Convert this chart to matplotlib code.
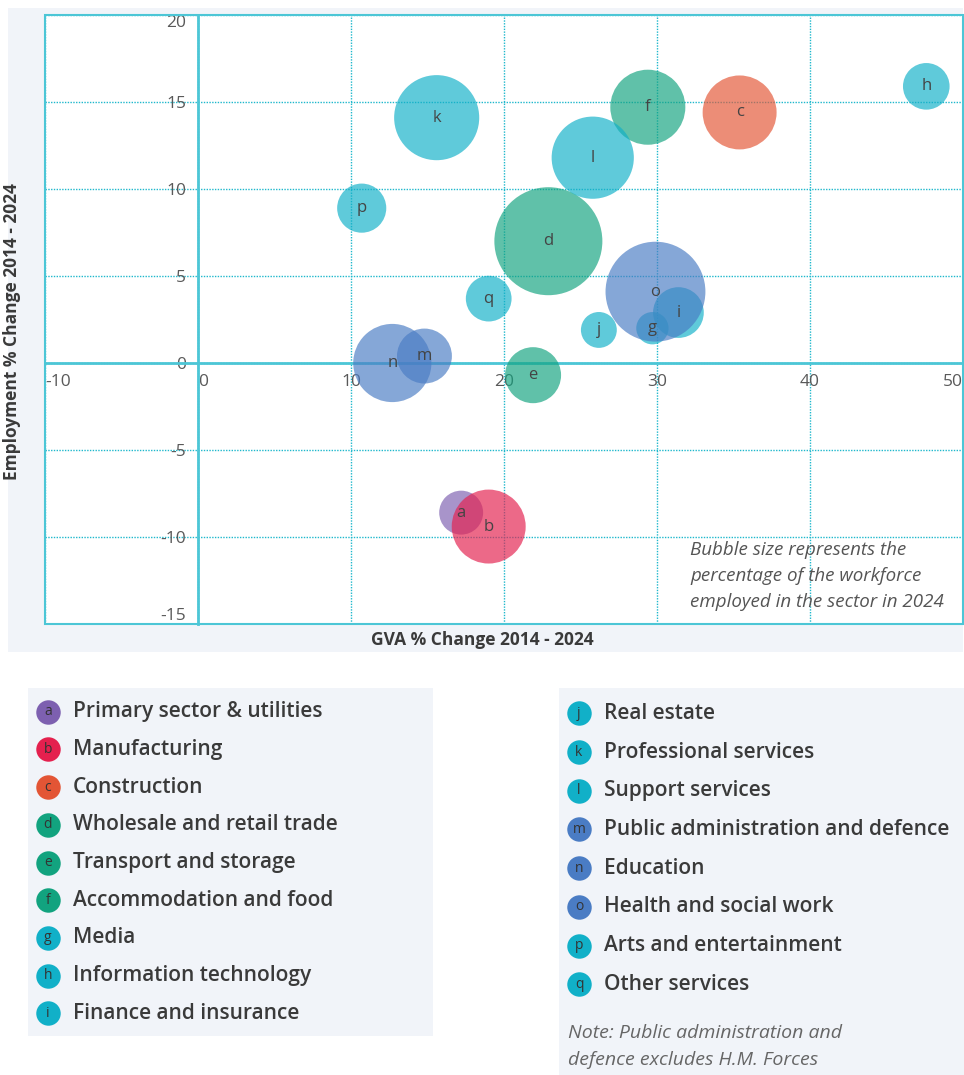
import matplotlib
matplotlib.use("Agg")
import matplotlib.pyplot as plt
from matplotlib.patches import Rectangle


# sector codes, names and values
codes = list("abcdefghijklmnopq")
sectors = [
    "Primary sector & utilities",
    "Manufacturing",
    "Construction",
    "Wholesale and retail trade",
    "Transport and storage",
    "Accommodation and food",
    "Media",
    "Information technology",
    "Finance and insurance",
    "Real estate",
    "Professional services",
    "Support services",
    "Public administration and defence",
    "Education",
    "Health and social work",
    "Arts and entertainment",
    "Other services",
]
gva_change = [17.2, 19.0, 35.4, 22.9, 21.9, 29.4, 29.7, 47.6, 31.4,
              26.2, 15.6, 25.8, 14.8, 12.7, 29.9, 10.7, 19.0]
emp_change = [-8.6, -9.4, 14.4, 7.0, -0.7, 14.7, 2.0, 15.9, 2.9,
              1.9, 14.1, 11.8, 0.4, 0.0, 4.1, 8.9, 3.7]
workforce_share = [2.4, 6.8, 6.8, 14.5, 3.9, 7.0, 1.3, 2.7, 3.2,
                   1.6, 9.0, 8.4, 3.75, 7.6, 12.4, 3.0, 2.6]

x_ticks = [-10, 0, 10, 20, 30, 40, 50]
y_ticks = [-15, -10, -5, 0, 5, 10, 15, 20]

PURPLE = "#7D60B0"
RED = "#E4204E"
ORANGE = "#E35535"
GREEN = "#12A37F"
CYAN = "#11B0C8"
BLUE = "#4A7CC4"
sector_colours = [PURPLE, RED, ORANGE, GREEN, GREEN, GREEN, CYAN, CYAN, CYAN,
                  CYAN, CYAN, CYAN, BLUE, BLUE, BLUE, CYAN, CYAN]

PANEL = "#F1F4F9"
GRID = "#1FB8CC"
FRAME = "#4CC6D6"
TEXT = "#3A3A3A"

plt.rcParams["font.family"] = ["Open Sans", "DejaVu Sans"]
plt.rcParams["axes.unicode_minus"] = False

W, H = 964, 1075
fig = plt.figure(figsize=(W / 100, H / 100), dpi=100)

# background layer in pixel coordinates (panels + legend)
bg = fig.add_axes([0, 0, 1, 1], zorder=0)
bg.set_xlim(0, W)
bg.set_ylim(H, 0)
bg.axis("off")
bg.add_patch(Rectangle((8, 8), 955, 644, color=PANEL, lw=0))
bg.add_patch(Rectangle((28, 688), 405, 348, color=PANEL, lw=0))
bg.add_patch(Rectangle((559, 688), 405, 387, color=PANEL, lw=0))

# main bubble chart
ax = fig.add_axes([45 / W, 1 - 624 / H, 918 / W, 609 / H], zorder=1)
ax.set_facecolor("white")

sizes = [s * 417 for s in workforce_share]
ax.scatter(gva_change, emp_change, s=sizes, c=sector_colours, alpha=0.67,
           linewidths=0, zorder=3)
for x, y, code in zip(gva_change, emp_change, codes):
    ax.text(x, y, code, ha="center", va="center", fontsize=12,
            color="#444444", zorder=4)

ax.set_xlim(-10, 50)
ax.set_ylim(-15, 20)
ax.set_xticks(x_ticks)
ax.set_yticks(y_ticks)
ax.grid(True, color=GRID, linestyle=(0, (1, 1)), linewidth=1)
ax.set_axisbelow(True)

for side in ["top", "right"]:
    ax.spines[side].set_visible(False)
ax.spines["left"].set_position(("data", 0))
ax.spines["bottom"].set_position(("data", 0))
for side in ["left", "bottom"]:
    ax.spines[side].set_color(FRAME)
    ax.spines[side].set_linewidth(2)

ax.tick_params(length=0, labelsize=12.5, labelcolor="#595959")
ax.tick_params(axis="y", pad=8.5)
ax.tick_params(axis="x", pad=8)

xl = ax.get_xticklabels()
xl[0].set_ha("left")
xl[1].set_ha("left")
xl[-1].set_ha("right")
yl = ax.get_yticklabels()
yl[0].set_va("bottom")
yl[-1].set_va("top")

ax.add_patch(Rectangle((0, 0), 1, 1, transform=ax.transAxes, fill=False,
                       ec=FRAME, lw=1.5, clip_on=False, zorder=5))

ax.set_xlabel("GVA % Change 2014 - 2024", fontsize=12.5, fontweight="bold",
              color=TEXT)
ax.xaxis.set_label_coords(0.476, -0.012)
ax.set_ylabel("Employment % Change 2014 - 2024", fontsize=12.5,
              fontweight="bold", color=TEXT)
ax.yaxis.set_label_coords(-0.026, 0.48)

ax.text(0.703, 0.137,
        "Bubble size represents the\npercentage of the workforce\n"
        "employed in the sector in 2024",
        transform=ax.transAxes, ha="left", va="top", fontsize=13.5,
        style="italic", color="#555555", linespacing=1.6, zorder=6)

# legend, two columns
columns = [
    (range(0, 9), 48, 711.7, 37.7),
    (range(9, 17), 579, 713.3, 38.7),
]
for idxs, mx, y0, step in columns:
    for row, i in enumerate(idxs):
        y = y0 + row * step
        bg.scatter(mx, y, s=310, color=sector_colours[i], linewidths=0)
        bg.text(mx, y, codes[i], ha="center", va="center", fontsize=10,
                color="#333333")
        bg.text(mx + 25, y, sectors[i], ha="left", va="center",
                fontsize=15, fontweight="semibold", color=TEXT)

bg.text(568, 1024, "Note: Public administration and\ndefence excludes H.M. Forces",
        ha="left", va="top", fontsize=14, style="italic", color="#666666",
        linespacing=1.62)

fig.savefig("out.png", dpi=100)
